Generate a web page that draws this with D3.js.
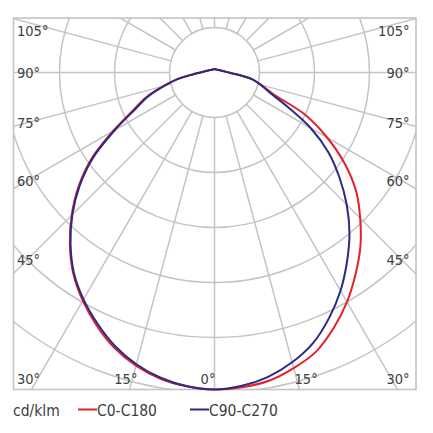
<!DOCTYPE html>
<html>
<head>
<meta charset="utf-8">
<script src="https://cdn.jsdelivr.net/npm/d3@7"></script>
<style>
  html, body { margin: 0; padding: 0; background: #fff; }
  svg { display: block; }
  text { font-family: "DejaVu Sans Condensed", "DejaVu Sans", sans-serif; font-stretch: condensed; fill: #404040; }
</style>
</head>
<body>
<svg id="chart" width="433" height="433"></svg>
<script>
// ---- data ----
const gammaAngles = [0, 5, 10, 15, 20, 25, 30, 35, 40, 45, 50, 55, 60, 65, 70, 75, 80, 85, 90, 95, 100, 120, 150, 180];
const c0   = [317, 316, 313, 306, 297, 282, 265, 246, 227, 206, 185, 159, 130, 100, 62, 48, 38, 23, 14, 10.5, 8.4, 4.9, 3.5, 3.5];
const c180 = [317, 315, 311, 303.5, 293, 279, 263.5, 246, 225, 202, 177.5, 150, 117, 90, 73, 53, 37, 22, 14, 10.5, 8.4, 4.9, 3.5, 3.5];
const c90  = [317, 314.5, 309, 300, 288, 271, 252, 231, 210, 187, 163, 139, 111, 80, 59, 48, 38, 23, 14, 10.5, 8.4, 4.9, 3.5, 3.5];
const c270 = [317, 315, 310, 302, 291, 277, 262, 245, 224, 201, 176, 148, 115, 88, 71, 52, 37, 22, 14, 10.5, 8.4, 4.9, 3.5, 3.5];
const gridValues = [45, 100, 155, 210, 265, 320, 375];
const spokeAngles = d3.range(0, 360, 15);
const tickAngles = [105, 90, 75, 60, 45, 30, 15, 0];
const tickLabels = ["105°", "90°", "75°", "60°", "45°", "30°", "15°", "0°"];
const legendUnit = "cd/klm";
const seriesNames = ["C0-C180", "C90-C270"];
const seriesColors = ["#e3202b", "#2b2a84"];

// ---- layout ----
const svg = d3.select("#chart");
const cx = 214.5, cy = 72.5;
const fx0 = 13.5, fy0 = 18, fx1 = 416, fy1 = 389.5;
const r = d3.scaleLinear().domain([0, 320]).range([0, 320]);
const gridColor = "#c4c4c4";

svg.append("defs").append("clipPath").attr("id", "frameClip")
  .append("rect").attr("x", fx0).attr("y", fy0).attr("width", fx1 - fx0).attr("height", fy1 - fy0);

const grid = svg.append("g").attr("clip-path", "url(#frameClip)");
grid.selectAll("circle").data(gridValues).join("circle")
  .attr("cx", cx).attr("cy", cy).attr("r", d => r(d))
  .attr("fill", "none").attr("stroke", gridColor).attr("stroke-width", 1.5);

// spokes: angle measured from straight down
grid.selectAll("line.spoke").data(spokeAngles).join("line")
  .attr("class", "spoke")
  .attr("x1", d => cx + r(gridValues[0]) * Math.sin(d * Math.PI / 180))
  .attr("y1", d => cy + r(gridValues[0]) * Math.cos(d * Math.PI / 180))
  .attr("x2", d => cx + 600 * Math.sin(d * Math.PI / 180))
  .attr("y2", d => cy + 600 * Math.cos(d * Math.PI / 180))
  .attr("stroke", gridColor).attr("stroke-width", 1.5);

svg.append("rect").attr("x", fx0).attr("y", fy0).attr("width", fx1 - fx0).attr("height", fy1 - fy0)
  .attr("fill", "none").attr("stroke", gridColor).attr("stroke-width", 1.6);

// ---- curves ----
function buildPoints(rightVals, leftVals) {
  const pts = [];
  for (let i = gammaAngles.length - 1; i >= 0; i--) {
    pts.push([Math.PI + gammaAngles[i] * Math.PI / 180, leftVals[i]]);
  }
  for (let i = 1; i < gammaAngles.length; i++) {
    pts.push([Math.PI - gammaAngles[i] * Math.PI / 180, rightVals[i]]);
  }
  return pts;
}
const radial = d3.lineRadial()
  .angle(d => d[0]).radius(d => r(d[1]))
  .curve(d3.curveCatmullRom.alpha(0.5));

const curves = svg.append("g").attr("transform", `translate(${cx},${cy})`);
curves.append("path").attr("d", radial(buildPoints(c0, c180)))
  .attr("fill", "none").attr("stroke", seriesColors[0]).attr("stroke-width", 2)
  .attr("stroke-linejoin", "round");
curves.append("path").attr("d", radial(buildPoints(c90, c270)))
  .attr("fill", "none").attr("stroke", seriesColors[1]).attr("stroke-width", 2)
  .attr("stroke-linejoin", "round");

// ---- angle labels ----
const labelG = svg.append("g").style("font-size", "14.5px");
tickAngles.forEach((a, i) => {
  const rad = a * Math.PI / 180;
  if (a >= 30) {
    let yL = a === 90 ? cy : cy + (cx - 27) / Math.tan(rad);
    yL = Math.max(31, Math.min(379, yL));
    labelG.append("text").attr("x", 17).attr("y", yL).attr("dy", "0.36em")
      .attr("text-anchor", "start").text(tickLabels[i]);
    labelG.append("text").attr("x", 409.5).attr("y", yL).attr("dy", "0.36em")
      .attr("text-anchor", "end").text(tickLabels[i]);
  } else {
    const yB = 379;
    const dx = (yB - cy) * Math.tan(rad);
    labelG.append("text").attr("x", cx - dx - 6.5).attr("y", yB).attr("dy", "0.36em")
      .attr("text-anchor", "middle").text(tickLabels[i]);
    if (a > 0) {
      labelG.append("text").attr("x", cx + dx + 9.5).attr("y", yB).attr("dy", "0.36em")
        .attr("text-anchor", "middle").text(tickLabels[i]);
    }
  }
});

// ---- legend ----
const leg = svg.append("g").style("font-size", "15.5px");
const ly = 410;
leg.append("text").attr("x", 13).attr("y", ly).attr("dy", "0.36em").text(legendUnit);
const legX = [78, 190];
seriesNames.forEach((n, i) => {
  leg.append("line").attr("x1", legX[i]).attr("x2", legX[i] + 19).attr("y1", ly - 0.5).attr("y2", ly - 0.5)
    .attr("stroke", seriesColors[i]).attr("stroke-width", 2);
  leg.append("text").attr("x", legX[i] + 19).attr("y", ly).attr("dy", "0.36em").text(n);
});
</script>
</body>
</html>
